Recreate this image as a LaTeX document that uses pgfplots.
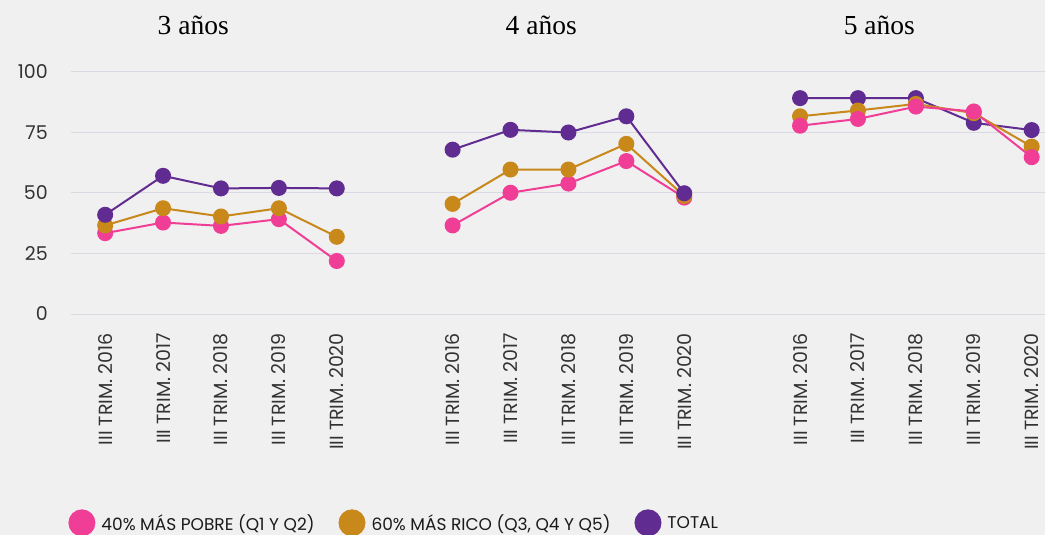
\documentclass[border=0pt]{standalone}
\usepackage{fontspec}
\setmainfont{Poppins}
\newfontfamily\titlefont{Liberation Serif}
\usepackage{pgfplots}
\pgfplotsset{compat=1.18}
\definecolor{bgc}{HTML}{F0F0F0}
\definecolor{gridc}{HTML}{DADAE3}
\definecolor{pinkc}{HTML}{F03E97}
\definecolor{orangec}{HTML}{C8881A}
\definecolor{purplec}{HTML}{612C91}
\definecolor{txt}{HTML}{333333}
\definecolor{ltxt}{HTML}{1A1A1A}
\begin{document}
\begin{tikzpicture}
\useasboundingbox (-71pt,-221pt) rectangle (974pt,314pt);
\clip (-71pt,-221pt) rectangle (974pt,314pt);
\fill[bgc] (-71pt,-221pt) rectangle (974pt,314pt);
\begin{axis}[
  scale only axis, width=974pt, height=242pt,
  xmin=-0.59, xmax=16.23, ymin=0, ymax=100,
  clip=false,
  axis line style={draw=none},
  major tick length=0pt,
  ymajorgrids, grid style={gridc, line width=1pt},
  ytick={0,25,50,75,100},
  xtick={0,1,2,3,4,6,7,8,9,10,12,13,14,15,16},
  xticklabels={III TRIM. 2016,III TRIM. 2017,III TRIM. 2018,III TRIM. 2019,III TRIM. 2020,
               III TRIM. 2016,III TRIM. 2017,III TRIM. 2018,III TRIM. 2019,III TRIM. 2020,
               III TRIM. 2016,III TRIM. 2017,III TRIM. 2018,III TRIM. 2019,III TRIM. 2020},
  /pgf/number format/assume math mode=true,
  yticklabel style={anchor=east, inner sep=0pt, xshift=-23pt, font=\fontsize{19}{19}\selectfont, text=txt},
  xticklabel style={rotate=90, anchor=east, inner sep=0pt, font=\fontsize{19}{19}\selectfont, text=txt},
  xticklabel shift=19pt,
  every axis plot/.append style={line width=2pt, mark=*, mark size=7pt},
  legend image code/.code={\fill[#1] (0pt,0pt) circle (12.5pt);},
  legend style={at={(axis cs:-0.69,-86.3)}, anchor=west, draw=none, fill=none,
    font=\fontsize{17}{17}\selectfont, text=ltxt, legend columns=3,
    /tikz/every odd column/.append style={column sep=4pt},
    /tikz/every even column/.append style={column sep=22pt}},
]
\addlegendimage{pinkc}
\addlegendentry{40\% MÁS POBRE (Q1 Y Q2)}
\addlegendimage{orangec}
\addlegendentry{60\% MÁS RICO (Q3, Q4 Y Q5)}
\addlegendimage{purplec}
\addlegendentry{TOTAL}
% Panel 1: 3 anos
\addplot[pinkc, forget plot] coordinates {(0,33.4) (1,37.8) (2,36.4) (3,39.2) (4,21.9)};
\addplot[orangec, forget plot] coordinates {(0,36.6) (1,43.7) (2,40.3) (3,43.7) (4,31.9)};
\addplot[purplec, forget plot] coordinates {(0,41.0) (1,57.1) (2,51.9) (3,52.1) (4,51.9)};
% Panel 2: 4 anos
\addplot[pinkc, forget plot] coordinates {(6,36.6) (7,50.1) (8,53.9) (9,63.2) (10,48.1)};
\addplot[orangec, forget plot] coordinates {(6,45.5) (7,59.7) (8,59.7) (9,70.3) (10,48.8)};
\addplot[purplec, forget plot] coordinates {(6,67.9) (7,76.1) (8,75.0) (9,81.7) (10,49.9)};
% Panel 3: 5 anos
\addplot[purplec, forget plot] coordinates {(12,89.2) (13,89.2) (14,89.2) (15,79.0) (16,76.0)};
\addplot[orangec, forget plot] coordinates {(12,81.7) (13,84.1) (14,86.8) (15,83.0) (16,69.2)};
\addplot[pinkc, forget plot] coordinates {(12,77.8) (13,80.6) (14,85.7) (15,83.7) (16,64.8)};
\node[anchor=base, font=\titlefont\fontsize{27.5}{27.5}\selectfont, text=black] at (axis cs:1.52,115.7) {3 años};
\node[anchor=base, font=\titlefont\fontsize{27.5}{27.5}\selectfont, text=black] at (axis cs:7.53,115.7) {4 años};
\node[anchor=base, font=\titlefont\fontsize{27.5}{27.5}\selectfont, text=black] at (axis cs:13.37,115.7) {5 años};
\end{axis}
\end{tikzpicture}
\end{document}
